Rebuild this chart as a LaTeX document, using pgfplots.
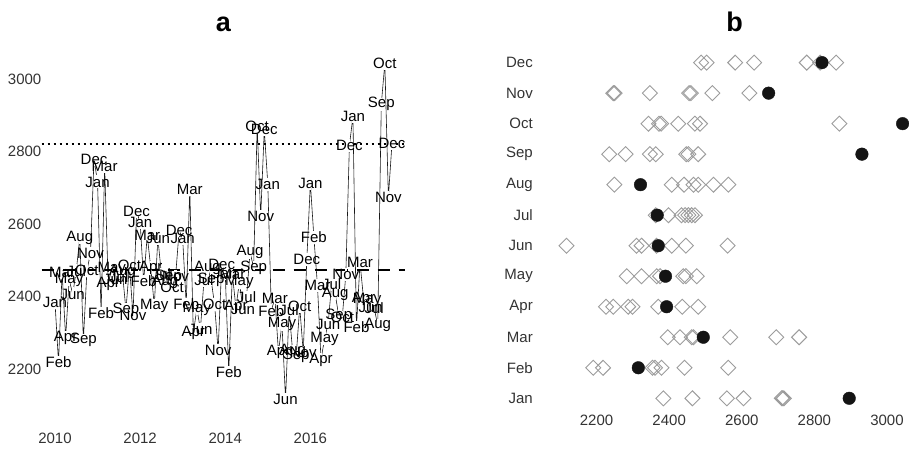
\documentclass[border=0pt]{standalone}
\usepackage{pgfplots}
\pgfplotsset{compat=1.18}
\usepackage{pgfplotstable}
\usepackage{fontspec}
\setmainfont{Liberation Sans}
\definecolor{dgray}{HTML}{333333}
\definecolor{dia}{HTML}{9C9C9C}
\definecolor{dotc}{HTML}{141414}
\pgfplotstableread{
t v m lab
2010.000 2384 1 Jan
2010.083 2218 2 Feb
2010.167 2467 3 Mar
2010.250 2287 4 Apr
2010.333 2446 5 May
2010.417 2407 6 Jun
2010.500 2471 7 Jul
2010.583 2563 8 Aug
2010.667 2280 9 Sep
2010.750 2471 10 Oct
2010.833 2519 11 Nov
2010.917 2779 12 Dec
2011.000 2716 1 Jan
2011.083 2354 2 Feb
2011.167 2758 3 Mar
2011.250 2436 4 Apr
2011.333 2476 5 May
2011.417 2446 6 Jun
2011.500 2453 7 Jul
2011.583 2467 8 Aug
2011.667 2363 9 Sep
2011.750 2485 10 Oct
2011.833 2347 11 Nov
2011.917 2634 12 Dec
2012.000 2605 1 Jan
2012.083 2442 2 Feb
2012.167 2568 3 Mar
2012.250 2480 4 Apr
2012.333 2375 5 May
2012.417 2561 6 Jun
2012.500 2462 7 Jul
2012.583 2441 8 Aug
2012.667 2453 9 Sep
2012.750 2425 10 Oct
2012.833 2455 11 Nov
2012.917 2582 12 Dec
2013.000 2559 1 Jan
2013.083 2379 2 Feb
2013.167 2695 3 Mar
2013.250 2299 4 Apr
2013.333 2366 5 May
2013.417 2310 6 Jun
2013.500 2444 7 Jul
2013.583 2480 8 Aug
2013.667 2447 9 Sep
2013.750 2378 10 Oct
2013.833 2250 11 Nov
2013.917 2488 12 Dec
2014.000 2464 1 Jan
2014.083 2191 2 Feb
2014.167 2462 3 Mar
2014.250 2370 4 Apr
2014.333 2439 5 May
2014.417 2365 6 Jun
2014.500 2398 7 Jul
2014.583 2522 8 Aug
2014.667 2480 9 Sep
2014.750 2869 10 Oct
2014.833 2621 11 Nov
2014.917 2860 12 Dec
2015.000 2710 1 Jan
2015.083 2361 2 Feb
2015.167 2396 3 Mar
2015.250 2246 4 Apr
2015.333 2324 5 May
2015.417 2117 6 Jun
2015.500 2363 7 Jul
2015.583 2249 8 Aug
2015.667 2235 9 Sep
2015.750 2372 10 Oct
2015.833 2246 11 Nov
2015.917 2503 12 Dec
2016.000 2713 1 Jan
2016.083 2563 2 Feb
2016.167 2430 3 Mar
2016.250 2226 4 Apr
2016.333 2283 5 May
2016.417 2324 6 Jun
2016.500 2434 7 Jul
2016.583 2407 8 Aug
2016.667 2347 9 Sep
2016.750 2343 10 Oct
2016.833 2460 11 Nov
2016.917 2816 12 Dec
2017.000 2896 1 Jan
2017.083 2315 2 Feb
2017.167 2494 3 Mar
2017.250 2393 4 Apr
2017.333 2390 5 May
2017.417 2370 6 Jun
2017.500 2367 7 Jul
2017.583 2321 8 Aug
2017.667 2931 9 Sep
2017.750 3043 10 Oct
2017.833 2674 11 Nov
2017.917 2821 12 Dec
}\data
\begin{document}
\begin{tikzpicture}
\pgfplotsset{
  every axis/.append style={
    scale only axis,
    axis line style={draw=none},
    major tick length=0pt,
    tick style={draw=none},
    tick label style={font=\fontsize{15}{18}\selectfont, text=dgray},
    clip=false,
  }
}
% ---------------- panel a ----------------
\begin{axis}[
  at={(41.5pt,35.5pt)}, anchor=south west,
  width=363.9pt, height=362.5pt,
  xmin=2009.683, xmax=2018.233,
  ymin=2080, ymax=3080,
  xtick={2010,2012,2014,2016},
  xticklabels={2010,2012,2014,2016},
  ytick={2200,2400,2600,2800,3000},
  yticklabels={2200,2400,2600,2800,3000},
  xticklabel style={anchor=north, inner sep=0pt, yshift=-20pt},
  yticklabel style={anchor=east, inner sep=0pt},
]
\addplot[black!90, line width=0.6pt, mark=|, mark size=6.5pt,
  mark options={draw=white, line width=2.2pt, solid}]
  table[x=t, y=v] {\data};
\addplot[draw=none, mark=none, nodes near coords, point meta=explicit symbolic,
  every node near coord/.append style={anchor=center, inner sep=0pt,
  font=\fontsize{15}{18}\selectfont, text=black}]
  table[x=t, y=v, meta=lab] {\data};
\addplot[black, line width=1.3pt, dash pattern=on 2.5pt off 3.5pt]
  coordinates {(2009.683,2821) (2018.233,2821)};
\addplot[black, line width=1.8pt, dash pattern=on 12pt off 9pt]
  coordinates {(2009.683,2473) (2018.233,2473)};
\end{axis}
% ---------------- panel b ----------------
\begin{axis}[
  at={(553pt,36.3pt)}, anchor=south west,
  width=363pt, height=362.5pt,
  xmin=2080, xmax=3080,
  ymin=0.56, ymax=12.44,
  xtick={2200,2400,2600,2800,3000},
  xticklabels={2200,2400,2600,2800,3000},
  ytick={1,2,3,4,5,6,7,8,9,10,11,12},
  yticklabels={Jan,Feb,Mar,Apr,May,Jun,Jul,Aug,Sep,Oct,Nov,Dec},
  xticklabel style={anchor=north, inner sep=0pt, yshift=-2.7pt},
  yticklabel style={anchor=east, inner sep=0pt, xshift=-20pt},
]
\addplot[only marks, mark=square, mark size=5.3pt,
  mark options={rotate=45, draw=dia, line width=0.9pt, fill=none},
  skip coords between index={84}{96}]
  table[x=v, y=m] {\data};
\addplot[only marks, mark=*, mark size=6.3pt,
  mark options={fill=dotc, draw=dotc},
  skip coords between index={0}{84}]
  table[x=v, y=m] {\data};
\end{axis}
\node[font=\bfseries\fontsize{27}{31}\selectfont, anchor=base] at (223.5pt,416pt) {a};
\node[font=\bfseries\fontsize{27}{31}\selectfont, anchor=base] at (734.5pt,416pt) {b};
\pgfresetboundingbox
\path[use as bounding box] (0pt,0pt) rectangle (909pt,448pt);
\end{tikzpicture}
\end{document}
